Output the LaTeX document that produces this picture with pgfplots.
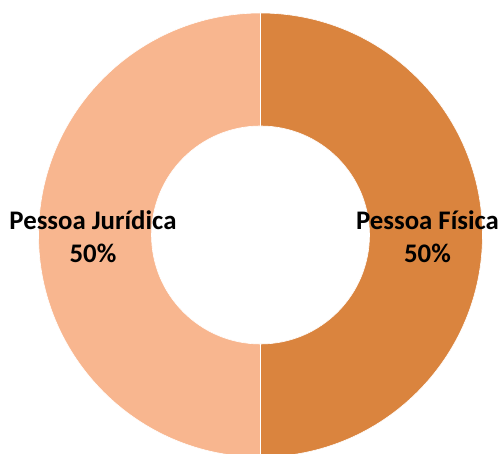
\documentclass[border=0pt]{standalone}
\usepackage{pgfplots}
\usepackage{pgfplotstable}
\pgfplotsset{compat=1.18}
\usepackage{fontspec}
\setmainfont{Carlito}
\usetikzlibrary{calc}
\definecolor{fisica}{HTML}{DA843E}
\definecolor{juridica}{HTML}{F8B68F}
\pgfplotstableread[col sep=comma]{
label,value
Pessoa Física,50
Pessoa Jurídica,50
}\donutdata
\begin{document}
\begin{tikzpicture}
\pgfplotstablegetelem{0}{value}\of\donutdata \let\va\pgfplotsretval
\pgfplotstablegetelem{1}{value}\of\donutdata \let\vb\pgfplotsretval
\pgfmathsetmacro\tot{\va+\vb}
\pgfmathsetmacro\fa{\va/\tot}
\pgfmathsetmacro\fb{\vb/\tot}
\pgfmathsetmacro\angA{90-360*\fa}
\pgfmathsetmacro\angB{\angA-360*\fb}
\pgfmathtruncatemacro\pa{round(100*\fa)}
\pgfmathtruncatemacro\pb{round(100*\fb)}
\begin{axis}[
  x=0.5pt, y=0.5pt,
  xmin=0, xmax=499, ymin=0, ymax=454,
  hide axis, clip=true,
]
\fill[fisica, draw=white, line width=0.3pt]
  ($(axis cs:260.5,219)+(90:111pt)$) arc[start angle=90, end angle=\angA, radius=111pt]
  -- ($(axis cs:260.5,219)+(\angA:54.5pt)$) arc[start angle=\angA, end angle=90, radius=54.5pt] -- cycle;
\fill[juridica, draw=white, line width=0.3pt]
  ($(axis cs:260.5,219)+(\angA:111pt)$) arc[start angle=\angA, end angle=\angB, radius=111pt]
  -- ($(axis cs:260.5,219)+(\angB:54.5pt)$) arc[start angle=\angB, end angle=\angA, radius=54.5pt] -- cycle;
\node[align=center, font=\fontsize{13.4}{16.5}\selectfont\bfseries] at (axis cs:427.5,217) {Pessoa Física\\\pa\%};
\node[align=center, font=\fontsize{13.4}{16.5}\selectfont\bfseries] at (axis cs:93,217) {Pessoa Jurídica\\\pb\%};
\end{axis}
\path (current axis.south west) rectangle (current axis.north east);
\end{tikzpicture}
\end{document}
